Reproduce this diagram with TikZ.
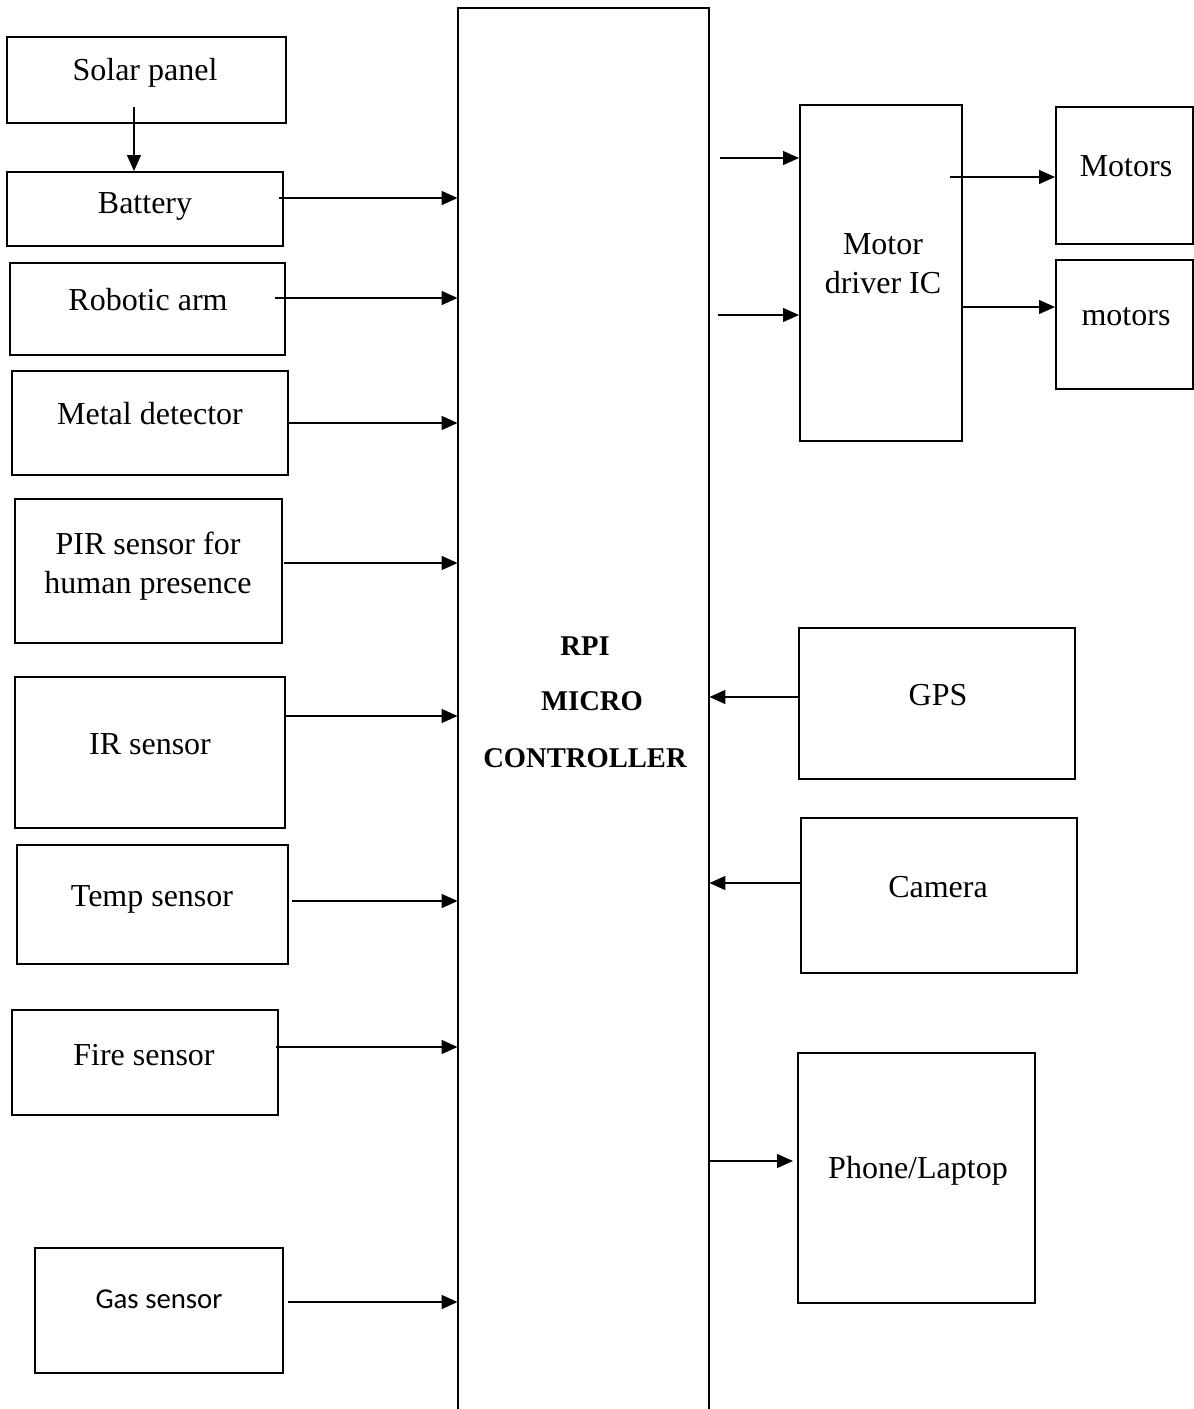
\documentclass[tikz,border=0pt]{standalone}
\usepackage{fontspec}
\setmainfont{Liberation Serif}
\newfontfamily\gasfont{Carlito}
\usetikzlibrary{arrows.meta,fit}
\begin{document}
\begin{tikzpicture}[x=0.5pt,y=-0.5pt,
  box/.style={draw,line width=1pt,inner sep=0pt},
  lbl/.style={font=\fontsize{16}{19.5}\selectfont,inner sep=0pt,anchor=base},
  lbl2/.style={font=\fontsize{16}{19.5}\selectfont,inner sep=0pt,align=center},
  bold/.style={font=\bfseries\fontsize{14.3}{17}\selectfont,inner sep=0pt,anchor=base},
  arr/.style={line width=0.65pt,-{Triangle[length=8pt,width=7pt]}}]
\useasboundingbox (0,0) rectangle (1194,1409);

% central controller (open at the bottom)
\node[inner sep=0pt,fit={(458,8)(709,1409)}] (rpi) {};
\draw[line width=1pt] (rpi.south west) -- (rpi.north west) -- (rpi.north east) -- (rpi.south east);
\node[bold] (rpiA) at (585,655) {RPI};
\node[bold] (rpiB) at (592,710) {MICRO};
\node[bold] (rpiC) at (585,767) {CONTROLLER};

% left column
\node[box,fit={(7,37)(286,123)}] (solar) {};
\node[lbl] (solarT) at (145,80) {Solar panel};
\node[box,fit={(7,172)(283,246)}] (battery) {};
\node[lbl] (batteryT) at (145,213) {Battery};
\node[box,fit={(10,263)(285,355)}] (arm) {};
\node[lbl] (armT) at (148,310) {Robotic arm};
\node[box,fit={(12,371)(288,475)}] (metal) {};
\node[lbl] (metalT) at (150,424) {Metal detector};
\node[box,fit={(15,499)(282,643)}] (pir) {};
\node[lbl2] (pirT) at (148,566) {PIR sensor for\\human presence};
\node[box,fit={(15,677)(285,828)}] (ir) {};
\node[lbl] (irT) at (150,754) {IR sensor};
\node[box,fit={(17,845)(288,964)}] (temp) {};
\node[lbl] (tempT) at (152,906) {Temp sensor};
\node[box,fit={(12,1010)(278,1115)}] (fire) {};
\node[lbl] (fireT) at (144,1065) {Fire sensor};
\node[box,fit={(35,1248)(283,1373)}] (gas) {};
\node[inner sep=0pt,anchor=base,font=\gasfont\fontsize{14.4}{17}\selectfont] (gasT) at (159,1308) {Gas sensor};

% right side
\node[box,fit={(800,105)(962,441)}] (mdr) {};
\node[lbl2] (mdrT) at (883,264) {Motor\\driver IC};
\node[box,fit={(1056,107)(1193,244)}] (mot1) {};
\node[lbl] (mot1T) at (1126,176) {Motors};
\node[box,fit={(1056,260)(1193,389)}] (mot2) {};
\node[lbl] (mot2T) at (1126,325) {motors};
\node[box,fit={(799,628)(1075,779)}] (gps) {};
\node[lbl] (gpsT) at (938,705) {GPS};
\node[box,fit={(801,818)(1077,973)}] (cam) {};
\node[lbl] (camT) at (938,897) {Camera};
\node[box,fit={(798,1053)(1035,1303)}] (phone) {};
\node[lbl] (phoneT) at (918,1178) {Phone/Laptop};

% connector start points
\coordinate (sS) at (134,107);
\coordinate (sB) at (279,198);
\coordinate (sA) at (275,298);
\coordinate (sM) at (288,423);
\coordinate (sP) at (284,563);
\coordinate (sI) at (286,716);
\coordinate (sT) at (292,901);
\coordinate (sF) at (276,1047);
\coordinate (sG) at (288,1302);
\coordinate (sD1) at (720,158);
\coordinate (sD2) at (718,315);
\coordinate (sO1) at (950,177);
\coordinate (sO2) at (962,307);
\coordinate (sGPS) at (799,697);
\coordinate (sCam) at (801,883);
\coordinate (sPh) at (709,1161);
\coordinate (ePh) at (793,1161);

\draw[arr] (sS) -- (sS |- battery.north);
\draw[arr] (sB) -- (sB -| rpi.west);
\draw[arr] (sA) -- (sA -| rpi.west);
\draw[arr] (sM) -- (sM -| rpi.west);
\draw[arr] (sP) -- (sP -| rpi.west);
\draw[arr] (sI) -- (sI -| rpi.west);
\draw[arr] (sT) -- (sT -| rpi.west);
\draw[arr] (sF) -- (sF -| rpi.west);
\draw[arr] (sG) -- (sG -| rpi.west);
\draw[arr] (sD1) -- (sD1 -| mdr.west);
\draw[arr] (sD2) -- (sD2 -| mdr.west);
\draw[arr] (sO1) -- (sO1 -| mot1.west);
\draw[arr] (sO2) -- (sO2 -| mot2.west);
\draw[arr] (sGPS) -- (sGPS -| rpi.east);
\draw[arr] (sCam) -- (sCam -| rpi.east);
\draw[arr] (sPh) -- (ePh);
\end{tikzpicture}
\end{document}
